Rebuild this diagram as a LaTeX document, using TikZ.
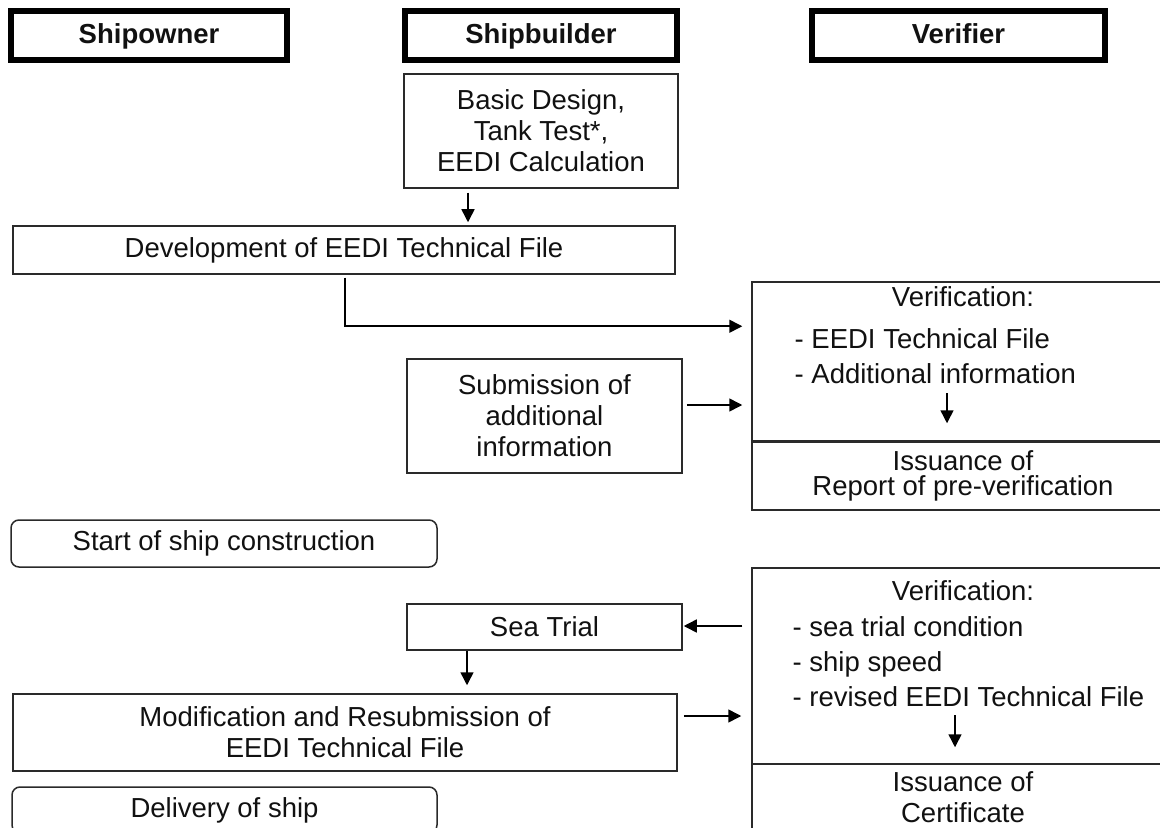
\documentclass[tikz,border=0pt]{standalone}
\usepackage{fontspec}
\setmainfont{Liberation Sans}
\usetikzlibrary{arrows.meta,calc}
\definecolor{ink}{HTML}{111111}
\definecolor{frame}{HTML}{2A2A2A}
\newcommand{\bodyfont}{\fontsize{13.75}{15.5}\selectfont}
\newcommand{\listfont}{\fontsize{13.75}{17.5}\selectfont}
\tikzset{
  head/.style={draw=black, line width=3pt, minimum height=24.5pt, inner sep=0pt,
               text height=10pt, text depth=2pt, font=\bfseries\bodyfont, text=ink},
  box/.style={draw=frame, line width=0.75pt, inner sep=0pt, align=center,
              font=\bodyfont, text=ink},
  rbox/.style={box, rounded corners=4pt},
  lbl/.style={inner sep=0pt, font=\bodyfont, text=ink},
  arr/.style={-{Triangle[length=6.5pt, width=6.5pt]}, line width=0.75pt, draw=black},
}

\begin{document}
\begin{tikzpicture}[x=0.5pt, y=-0.5pt]
    \useasboundingbox (0,0) rectangle (1160,828);
    \clip (0,0) rectangle (1160,828);
    \node[head, minimum width=138pt] (owner) at (149,35.5) {Shipowner};
    \node[head, minimum width=136pt] (builder) at (541,35.5) {Shipbuilder};
    \node[head, minimum width=146.5pt] (verif) at (958.5,35.5) {Verifier};
    % pre-verification
    \node[box, minimum width=137pt, minimum height=57pt] (design) at (541,131)
          {Basic Design,\\Tank Test*,\\EEDI Calculation};
    \node[box, minimum width=331pt, minimum height=24pt] (devel) at (344,250)
          {Development of EEDI Technical File};
    \node[box, minimum width=137.5pt, minimum height=57pt] (submit) at (544.5,416)
          {Submission of\\additional\\information};
    \node[box, minimum width=211pt, minimum height=79.5pt] (ver1) at (963,361.5) {};
    \node[lbl, anchor=north] (vt1) at ($(ver1.north)+(0,5)$) {Verification:};
    \node[lbl, anchor=north west, align=left, font=\listfont] (vl1) at ($(ver1.north west)+(43,47)$)
          {- EEDI Technical File\\- Additional information};
    \node[box, minimum width=211pt, minimum height=34pt, font=\fontsize{13.75}{12.5}\selectfont]
          (iss1) at (963,476) {Issuance of\\Report of pre-verification};
    \draw[arr] ($(design.south)+(-73,4)$) -- ($(devel.north)+(124,-3)$);
    \draw[arr] ($(devel.south)+(1,3)$) |- ($(ver1.north west)+(-9,45)$);
    \draw[arr] ($(submit.east)+(4,-11)$) -- ($(ver1.west)+(-9,43.5)$);
    \draw[arr] ($(ver1.center)+(-16,31.5)$) -- ($(iss1.north)+(-16,-18)$);
    % construction and sea trial
    \node[rbox, minimum width=213pt, minimum height=23.5pt] (start) at (224,543.5)
          {Start of ship construction};
    \node[box, minimum width=137.5pt, minimum height=23pt] (sea) at (544.5,627) {Sea Trial};
    \node[box, minimum width=332pt, minimum height=38.5pt] (modif) at (345,732.5)
          {Modification and Resubmission of\\EEDI Technical File};
    \node[rbox, minimum width=212.5pt, minimum height=23pt] (deliv) at (224.5,810)
          {Delivery of ship};
    \node[box, minimum width=211pt, minimum height=98pt] (ver2) at (963,666) {};
    \node[lbl, anchor=north] (vt2) at ($(ver2.north)+(0,13)$) {Verification:};
    \node[lbl, anchor=north west, align=left, font=\listfont] (vl2) at ($(ver2.north west)+(41,49)$)
          {- sea trial condition\\- ship speed\\- revised EEDI Technical File};
    \node[box, minimum width=211pt, minimum height=33.5pt] (iss2) at (963,797.5)
          {Issuance of\\Certificate};
    \draw[arr] ($(ver2.west)+(-9,-40)$) -- ($(sea.east)+(1,-1)$);
    \draw[arr] ($(sea.south)+(-77.5,0)$) -- ($(modif.north)+(122,-8)$);
    \draw[arr] ($(modif.east)+(6,-16.5)$) -- ($(ver2.west)+(-10,50)$);
    \draw[arr] ($(ver2.center)+(-8,49)$) -- ($(iss2.north)+(-8,-16)$);
\end{tikzpicture}
\end{document}
